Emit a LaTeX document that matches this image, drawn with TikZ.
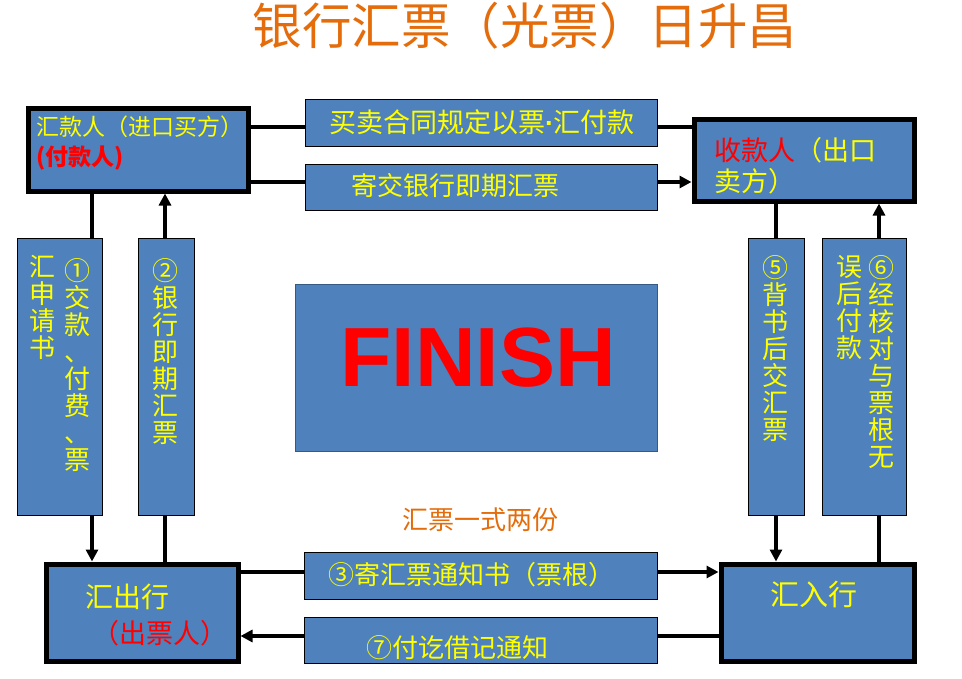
\documentclass[tikz,border=0pt]{standalone}
\usepackage{fontspec}
\setmainfont{Liberation Sans}
\newfontfamily\cjk{Noto Sans CJK SC}
\usetikzlibrary{arrows.meta}
\definecolor{boxblue}{HTML}{4F81BD}
\definecolor{txtyel}{HTML}{FFFF00}
\definecolor{txtred}{HTML}{FF0000}
\definecolor{ttlorange}{HTML}{E46C0A}
\begin{document}
\begin{tikzpicture}[x=1pt,y=-1pt,
  party/.style={draw=black, line width=5pt, fill=boxblue, inner sep=0pt},
  tag/.style={draw=black, line width=0.8pt, fill=boxblue, inner sep=0pt},
  conn/.style={line width=4pt, draw=black},
  arr/.style={-{Triangle[length=12pt,width=12pt]}},
  ytext/.style={text=txtyel, inner sep=0pt, font=\cjk\fontsize{26}{27}\selectfont},
  rtext/.style={text=txtred, inner sep=0pt, font=\cjk\fontsize{26}{27}\selectfont},
  vtext/.style={ytext, align=center, anchor=north, font=\cjk\fontsize{26}{27}\selectfont}]
\useasboundingbox (0,0) rectangle (962,678);

% title
\node[text=ttlorange, inner sep=0pt, font=\cjk\fontsize{49.5}{50}\selectfont] (title) at (525,26) {银行汇票（光票）日升昌};

% main parties
\node[party, minimum width=220pt, minimum height=83pt] (A) at (138,149.5) {};
\node[party, minimum width=220pt, minimum height=82pt] (B) at (804,160) {};
\node[party, minimum width=192pt, minimum height=97pt] (C) at (142,612.5) {};
\node[party, minimum width=193pt, minimum height=97pt] (D) at (817.5,612.5) {};

% helper coordinates
\coordinate (r127) at (0,127);
\coordinate (r182) at (0,182);
\coordinate (r572) at (0,572);
\coordinate (r636) at (0,636);
\coordinate (c92) at (92,0);
\coordinate (c165) at (165,0);
\coordinate (c776) at (776,0);
\coordinate (c879) at (879,0);

% connectors
\draw[conn] (A.east |- r127) -- (B.west |- r127);
\draw[conn,arr] (A.east |- r182) -- (B.west |- r182);
\draw[conn,arr] (A.south -| c92) -- (C.north -| c92);
\draw[conn,arr] (C.north -| c165) -- (A.south -| c165);
\draw[conn,arr] (B.south -| c776) -- (D.north -| c776);
\draw[conn,arr] (D.north -| c879) -- (B.south -| c879);
\draw[conn,arr] (C.east |- r572) -- (D.west |- r572);
\draw[conn,arr] (D.west |- r636) -- (C.east |- r636);

% label boxes
\node[tag, minimum width=352pt, minimum height=47pt] (L1) at (481,122.5) {};
\node[tag, minimum width=352pt, minimum height=46pt] (L2) at (481,187) {};
\node[tag, minimum width=353pt, minimum height=47pt] (L3) at (480.5,575.5) {};
\node[tag, minimum width=353pt, minimum height=46pt] (L7) at (480.5,640) {};
\node[tag, minimum width=85pt, minimum height=277pt] (V1) at (59.5,376.5) {};
\node[tag, minimum width=56pt, minimum height=277pt] (V2) at (166,376.5) {};
\node[tag, minimum width=56pt, minimum height=277pt] (V5) at (776,376.5) {};
\node[tag, minimum width=84pt, minimum height=277pt] (V6) at (864,376.5) {};
\node[draw=boxblue!70!black, line width=0.8pt, fill=boxblue, inner sep=0pt, minimum width=362pt, minimum height=167pt] (F) at (476,367.5) {};

% texts
\node[ytext, anchor=west, font=\cjk\fontsize{23}{25}\selectfont] (tA1) at (36,127) {汇款人（进口买方）};
\node[rtext, anchor=west, font=\cjk\bfseries\fontsize{23}{25}\selectfont] (tA2) at (36,158) {(付款人)};
\node[anchor=west, inner sep=0pt, font=\cjk\fontsize{27}{29}\selectfont] (tB1) at (714,150) {\textcolor{txtred}{收款人}\textcolor{txtyel}{（出口}};
\node[ytext, anchor=west, font=\cjk\fontsize{27}{29}\selectfont] (tB2) at (714,181) {卖方）};
\node[ytext, anchor=west, font=\cjk\fontsize{28}{29}\selectfont] (tC1) at (85,597) {汇出行};
\node[rtext, anchor=west, font=\cjk\fontsize{27}{29}\selectfont] (tC2) at (92,633) {（出票人）};
\node[ytext, font=\cjk\fontsize{29}{30}\selectfont] (tD) at (814,595) {汇入行};

\node[ytext, font=\cjk\fontsize{27}{28}\selectfont] (tL1) at (482,122) {买卖合同规定以票{\rmfamily\bfseries ·}汇付款};
\node[ytext] (tL2) at (455,186) {寄交银行即期汇票};
\node[ytext] (tL3) at (471,575) {③寄汇票通知书（票根）};
\node[ytext] (tL7) at (457,648) {⑦付讫借记通知};

\node[text=ttlorange, inner sep=0pt, font=\cjk\fontsize{26}{27}\selectfont] (note) at (480,520) {汇票一式两份};

\node[vtext] (tV1a) at (77,258) {①\\交\\款\\、\\付\\费\\、\\票};
\node[vtext] (tV1b) at (43,255) {汇\\申\\请\\书};
\node[vtext] (tV2) at (165,258) {②\\银\\行\\即\\期\\汇\\票};
\node[vtext] (tV5) at (775,255) {⑤\\背\\书\\后\\交\\汇\\票};
\node[vtext] (tV6a) at (881,255) {⑥\\经\\核\\对\\与\\票\\根\\无};
\node[vtext] (tV6b) at (849,255) {误\\后\\付\\款};

\node[text=txtred, inner sep=0pt, font=\bfseries\fontsize{84}{84}\selectfont] (tF) at (478,358) {FINISH};
\end{tikzpicture}
\end{document}
